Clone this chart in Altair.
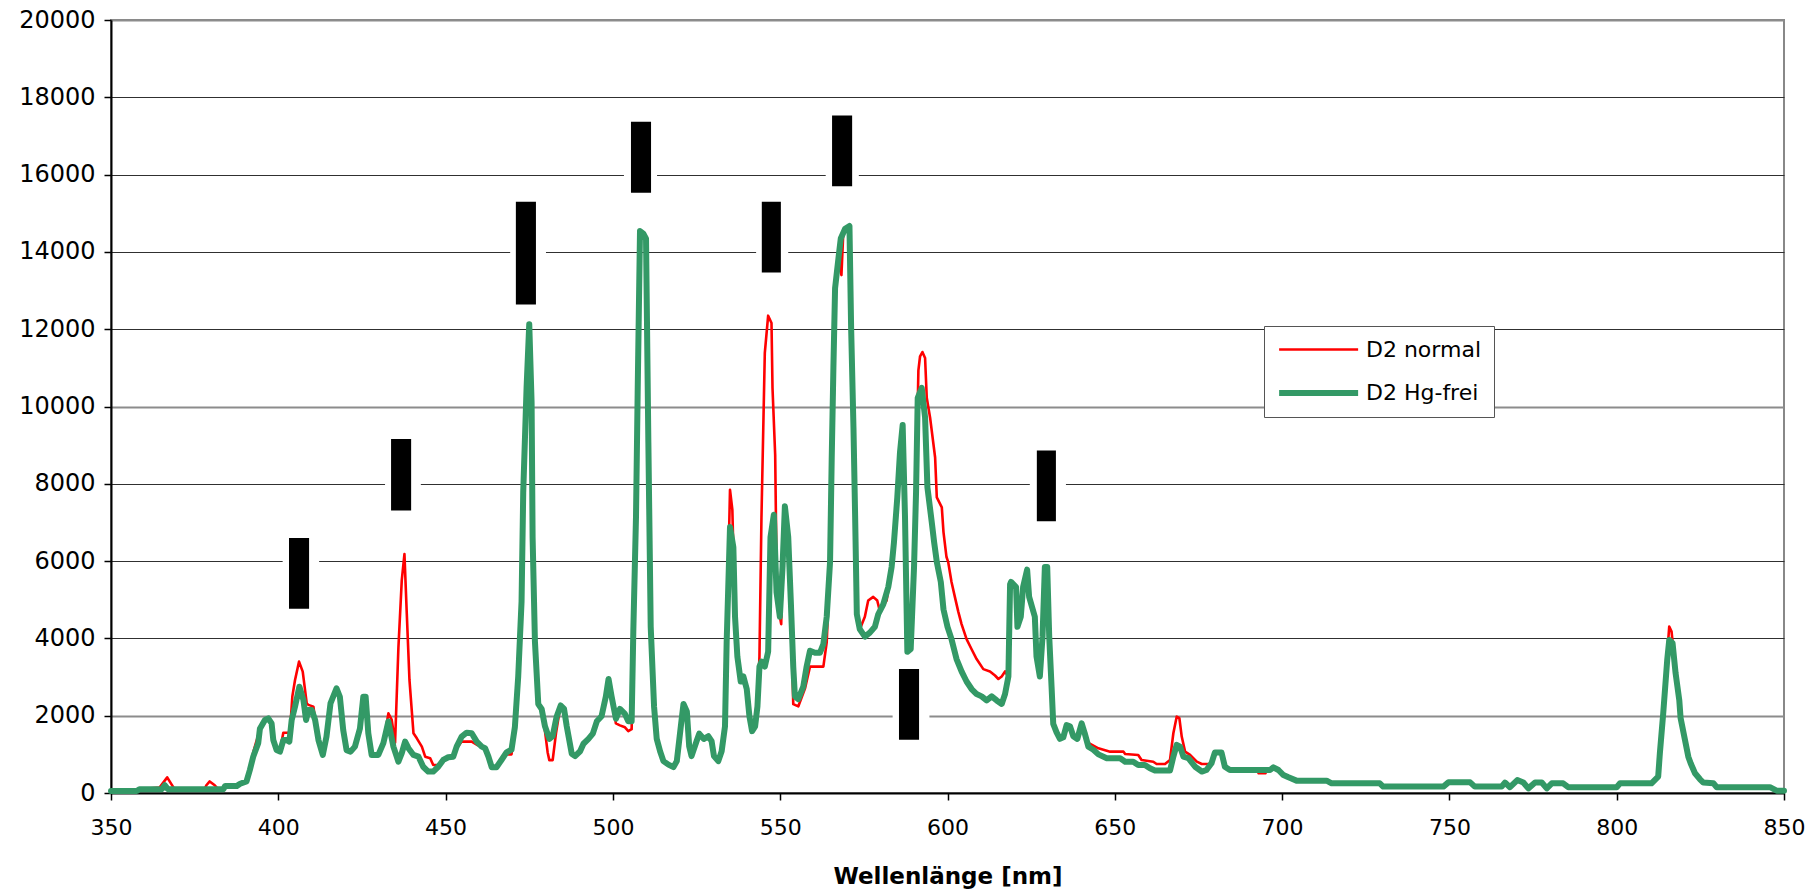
import altair as alt
import pandas as pd

# Emission spectra of the two deuterium lamps: (wavelength in nm, intensity)
D2_NORMAL = [
    (350, 50), (357.7, 50), (358.5, 95), (364.5, 140), (366.8, 405), (368.0, 235), (369.0, 100),
    (378.0, 100), (378.5, 200), (379.5, 300), (381.0, 200), (382.0, 100), (383.6, 100), (384.1, 180),
    (387.6, 180), (388.6, 240), (390.5, 300), (391.5, 650), (392.5, 1050), (394.0, 1500), (395.0, 1800),
    (396.0, 1900), (397.0, 1950), (398.0, 1800), (398.5, 1370), (399.5, 1150), (400.5, 1100),
    (401.5, 1560), (403.0, 1560), (403.5, 1600), (404.2, 2500), (405.0, 2925), (406.2, 3400),
    (407.3, 3140), (408.5, 2320), (409.0, 2280), (410.5, 2235), (411.0, 1890), (412.0, 1370),
    (413.3, 985), (414.4, 1460), (415.6, 2320), (417.4, 2710), (418.4, 2490), (419.4, 1630),
    (420.4, 1110), (421.6, 1070), (422.9, 1200), (424.4, 1670), (425.4, 2490), (426.1, 2490),
    (426.9, 1545), (427.9, 985), (429.9, 985), (431.4, 1290), (432.9, 2060), (433.9, 1890),
    (434.9, 1300), (435.9, 3770), (436.9, 5500), (437.7, 6180), (438.4, 4640), (439.2, 2925),
    (440.4, 1545), (441.4, 1415), (442.9, 1200), (443.9, 940), (445.4, 900), (446.3, 725),
    (447.8, 725), (449.3, 855), (450.8, 925), (452.3, 940), (453.3, 1150), (454.8, 1330),
    (456.3, 1330), (457.8, 1330), (459.3, 1250), (460.8, 1200), (461.8, 1160), (462.8, 940),
    (463.8, 665), (465.2, 665), (466.7, 855), (468.2, 1000), (469.7, 1000), (470.7, 1700),
    (471.7, 3010), (472.7, 4950), (473.2, 7780), (474.2, 10480), (475.0, 12130), (475.7, 10100),
    (476.0, 6620), (476.7, 3915), (477.7, 2300), (478.7, 2175), (479.7, 1600), (480.5, 1050),
    (481.0, 850), (482.0, 850), (483.0, 1550), (484.2, 2200), (485.4, 2175), (486.2, 1725),
    (487.7, 1015), (488.7, 955), (490.2, 1080), (491.2, 1275), (492.7, 1400), (494.0, 1535),
    (495.2, 1855), (496.6, 1985), (497.9, 2500), (498.7, 2950), (499.6, 2500), (500.9, 1800),
    (502.1, 1750), (503.6, 1700), (504.6, 1600), (505.6, 1650), (506.1, 4175), (506.9, 7135),
    (507.4, 10350), (508.1, 14540), (509.1, 14475), (509.9, 14345), (510.6, 9070), (511.3, 4300),
    (512.3, 2240), (513.1, 1400), (514.1, 1080), (515.1, 825), (516.6, 735), (518.1, 670),
    (519.1, 825), (520.3, 1725), (521.1, 2305), (522.1, 2110), (522.8, 1210), (523.5, 955),
    (525.0, 1340), (525.8, 1535), (527.2, 1400), (528.5, 1470), (529.5, 1340), (530.2, 955),
    (531.5, 825), (532.5, 1080), (533.5, 1725), (534.0, 3915), (535.0, 7845), (535.7, 7330),
    (536.5, 4560), (537.2, 3530), (538.2, 2885), (539.0, 3015), (540.0, 2690), (540.8, 1985),
    (541.6, 1600), (542.5, 1725), (543.2, 2240), (543.8, 3530), (544.4, 7135), (545.4, 11390),
    (546.4, 12350), (547.4, 12160), (547.7, 10480), (548.5, 8745), (548.9, 5850), (549.6, 4700),
    (550.3, 4370), (550.7, 5850), (551.4, 7420), (552.4, 6620), (553.2, 4900), (553.9, 2300),
    (555.4, 2240), (557.4, 2700), (558.9, 3270), (562.9, 3270), (563.9, 3900), (564.9, 5980),
    (565.4, 8680), (565.9, 11000), (566.4, 13060), (567.4, 13830), (568.3, 13400), (568.8, 14400),
    (569.4, 14600), (570.7, 14670), (571.2, 12030), (571.9, 9450), (572.4, 7135), (572.9, 4625),
    (573.8, 4235), (575.3, 4560), (576.3, 4980), (577.8, 5075), (579.0, 4980), (579.8, 4700),
    (581.8, 4980), (582.8, 5500), (583.3, 5850), (584.0, 6490), (585.0, 7650), (585.8, 8810),
    (586.6, 9520), (587.3, 7135), (588.0, 3655), (589.0, 3720), (590.0, 5850), (590.6, 7780),
    (591.3, 10935), (591.8, 11300), (592.5, 11410), (593.3, 11255), (593.8, 10225), (594.8, 9710),
    (596.3, 8680), (596.8, 7650), (598.3, 7390), (598.8, 6750), (599.7, 6105), (600.2, 5980),
    (601.2, 5460), (602.2, 5075), (603.2, 4700), (604.2, 4370), (605.7, 3980), (607.2, 3720),
    (608.7, 3465), (610.7, 3205), (612.7, 3145), (614.2, 3040), (615.2, 2950), (616.2, 3015),
    (617.2, 3145), (618.2, 3015), (618.7, 5395), (619.0, 5460), (620.5, 5330), (620.9, 4300),
    (621.9, 4560), (622.6, 5330), (623.8, 5780), (624.4, 5075), (626.1, 4560), (626.6, 3530),
    (627.6, 3015), (628.4, 4045), (629.1, 5850), (629.8, 5850), (630.4, 4045), (631.1, 2755),
    (631.6, 1790), (632.6, 1570), (633.6, 1400), (634.6, 1440), (635.6, 1755), (636.6, 1725),
    (637.6, 1470), (638.8, 1400), (640.1, 1800), (641.1, 1420), (642.1, 1295), (645.1, 1155),
    (648.6, 1070), (652.6, 1070), (653.1, 1010), (657.0, 985), (658.0, 855), (661.5, 810),
    (662.5, 750), (665.0, 750), (666.5, 855), (667.5, 1545), (668.5, 1975), (669.3, 1935),
    (670.0, 1460), (671.0, 1070), (672.5, 985), (674.5, 810), (676.0, 750), (678.0, 750),
    (678.9, 770), (679.9, 1045), (681.9, 1045), (682.9, 680), (684.4, 595), (692.5, 595),
    (693.0, 510), (695.0, 510), (695.5, 595), (696.4, 595), (697.4, 665), (698.9, 595),
    (700.4, 465), (701.9, 405), (704.3, 320), (713.3, 320), (714.8, 250), (729.2, 250),
    (730.2, 200), (738.0, 200), (739.0, 165), (748.2, 165), (749.7, 275), (756.2, 275),
    (757.6, 165), (765.6, 165), (766.6, 270), (768.1, 150), (770.3, 335), (772.1, 270),
    (773.6, 120), (775.6, 270), (777.6, 270), (779.1, 120), (780.6, 250), (784.0, 250),
    (785.5, 150), (800.0, 150), (801.0, 250), (810.4, 250), (812.4, 425), (812.9, 1030),
    (813.9, 2060), (815.1, 3600), (815.7, 4305), (816.4, 4175), (817.6, 3100), (818.7, 2405),
    (819.1, 1935), (820.4, 1375), (821.4, 940), (822.1, 770), (823.4, 510), (824.9, 355),
    (825.9, 270), (828.9, 250), (829.9, 150), (845.8, 150), (847.8, 60), (850.0, 60),
]

D2_HG_FREI = [
    (350, 50), (357.7, 50), (358.5, 95), (365.1, 95), (366.1, 200), (367.0, 100), (383.6, 100),
    (384.1, 180), (387.6, 180), (388.6, 240), (390.5, 300), (391.5, 595), (392.5, 940),
    (394.0, 1290), (394.5, 1660), (396.0, 1890), (397.0, 1930), (398.0, 1800), (398.5, 1370),
    (399.5, 1110), (400.5, 1070), (401.5, 1370), (402.5, 1370), (403.3, 1330), (404.0, 1890),
    (405.0, 2235), (406.3, 2750), (407.5, 2410), (408.3, 1890), (409.0, 2150), (410.0, 2150),
    (411.0, 1890), (412.0, 1370), (413.3, 985), (414.4, 1460), (415.6, 2320), (417.4, 2710),
    (418.4, 2490), (419.4, 1630), (420.4, 1110), (421.6, 1070), (422.9, 1200), (424.4, 1670),
    (425.4, 2490), (426.1, 2490), (426.9, 1545), (427.9, 985), (429.9, 985), (431.4, 1290),
    (432.9, 1850), (434.4, 1200), (435.9, 810), (436.9, 1030), (437.9, 1330), (438.9, 1160),
    (440.4, 985), (441.9, 940), (443.3, 680), (444.8, 555), (446.3, 555), (447.8, 680),
    (449.3, 855), (450.8, 925), (452.3, 940), (453.3, 1200), (454.8, 1460), (456.3, 1560),
    (457.8, 1545), (459.3, 1330), (460.8, 1200), (461.8, 1160), (462.8, 940), (463.8, 665),
    (465.2, 665), (466.7, 855), (468.2, 1050), (469.7, 1120), (470.7, 1700), (471.7, 3010),
    (472.7, 4950), (473.2, 7780), (474.2, 10480), (475.0, 12130), (475.7, 10100), (476.0, 6620),
    (476.7, 3915), (477.7, 2300), (478.7, 2175), (479.7, 1725), (481.0, 1400), (482.0, 1470),
    (483.2, 1980), (484.4, 2265), (485.4, 2175), (486.2, 1725), (487.7, 1015), (488.7, 955),
    (490.2, 1080), (491.2, 1275), (492.7, 1400), (494.0, 1535), (495.2, 1855), (496.6, 1985),
    (497.9, 2500), (498.7, 2950), (499.6, 2500), (500.9, 1920), (502.1, 2175), (503.6, 2045),
    (504.6, 1855), (505.6, 1855), (506.1, 4175), (506.9, 7135), (507.4, 10350), (508.1, 14540),
    (509.1, 14475), (509.9, 14345), (510.6, 9070), (511.3, 4300), (512.3, 2240), (513.1, 1400),
    (514.1, 1080), (515.1, 825), (516.6, 735), (518.1, 670), (519.1, 825), (520.3, 1725),
    (521.1, 2305), (522.1, 2110), (522.8, 1210), (523.5, 955), (525.0, 1340), (525.8, 1535),
    (527.2, 1400), (528.5, 1470), (529.5, 1340), (530.2, 955), (531.5, 825), (532.5, 1080),
    (533.5, 1725), (534.0, 3915), (535.0, 6880), (536.0, 6360), (536.5, 4560), (537.2, 3530),
    (538.2, 2885), (539.0, 3015), (540.0, 2690), (540.8, 1985), (541.6, 1600), (542.5, 1725),
    (543.2, 2240), (543.8, 3270), (544.4, 3400), (545.4, 3270), (546.4, 3660), (547.1, 6620),
    (548.1, 7200), (548.9, 5200), (549.9, 4560), (550.7, 5850), (551.4, 7420), (552.4, 6620),
    (553.2, 4900), (553.9, 3270), (554.4, 2500), (555.4, 2430), (556.9, 2755), (557.9, 3270),
    (558.9, 3680), (560.4, 3630), (561.9, 3630), (562.9, 3850), (563.9, 4560), (564.9, 5980),
    (565.4, 8680), (565.9, 11000), (566.4, 13060), (567.4, 13830), (568.1, 14345), (569.4, 14600),
    (570.7, 14670), (571.2, 12030), (571.9, 9450), (572.4, 7135), (572.9, 4625), (573.8, 4235),
    (575.3, 4045), (576.8, 4150), (578.3, 4300), (579.3, 4625), (580.8, 4880), (582.3, 5330),
    (583.3, 5850), (584.0, 6490), (585.0, 7650), (585.8, 8810), (586.6, 9520), (587.3, 7135),
    (588.0, 3655), (589.0, 3720), (590.0, 5850), (590.6, 7780), (591.1, 10225), (592.3, 10485),
    (593.3, 9710), (594.0, 7905), (595.3, 7005), (596.0, 6490), (596.8, 5980), (598.0, 5460),
    (598.8, 4750), (600.0, 4300), (601.2, 3980), (602.7, 3465), (604.2, 3145), (605.7, 2885),
    (607.2, 2690), (608.7, 2560), (610.2, 2500), (611.7, 2395), (613.2, 2500), (614.7, 2395),
    (616.2, 2305), (617.2, 2560), (618.2, 3015), (618.7, 5395), (619.0, 5460), (620.5, 5330),
    (620.9, 4300), (621.9, 4560), (622.6, 5330), (623.8, 5780), (624.4, 5075), (626.1, 4560),
    (626.6, 3530), (627.6, 3015), (628.4, 4045), (629.1, 5850), (629.8, 5850), (630.4, 4045),
    (631.1, 2755), (631.6, 1790), (632.6, 1570), (633.6, 1400), (634.6, 1440), (635.6, 1755),
    (636.6, 1725), (637.6, 1470), (638.8, 1400), (640.1, 1800), (641.0, 1550), (642.1, 1200),
    (643.6, 1120), (645.1, 1000), (647.6, 900), (651.6, 900), (653.1, 810), (655.5, 810),
    (657.0, 725), (659.0, 725), (660.5, 640), (662.0, 580), (666.5, 580), (667.5, 940),
    (668.5, 1245), (669.5, 1200), (670.5, 940), (672.0, 900), (674.0, 680), (676.0, 555),
    (677.4, 595), (678.9, 770), (679.9, 1045), (681.9, 1045), (682.9, 680), (684.4, 595),
    (696.4, 595), (697.4, 665), (698.9, 595), (700.4, 465), (701.9, 405), (704.3, 320),
    (713.3, 320), (714.8, 250), (729.2, 250), (730.2, 165), (748.2, 165), (749.7, 275),
    (756.2, 275), (757.6, 165), (765.6, 165), (766.6, 270), (768.1, 150), (770.3, 335),
    (772.1, 270), (773.6, 120), (775.6, 270), (777.6, 270), (779.1, 120), (780.6, 250),
    (784.0, 250), (785.5, 150), (800.0, 150), (801.0, 250), (810.4, 250), (812.4, 425),
    (812.9, 1030), (813.9, 2060), (815.1, 3445), (815.7, 3960), (816.7, 3875), (817.6, 3100),
    (818.7, 2405), (819.1, 1935), (820.4, 1375), (821.4, 940), (822.1, 770), (823.4, 510),
    (824.9, 355), (825.9, 270), (828.9, 250), (829.9, 150), (845.8, 150), (847.8, 60), (850.0, 60),
]

SERIES = ["D2 normal", "D2 Hg-frei"]
SERIES_COLORS = ["#ff0000", "#339966"]
SERIES_WIDTHS = [2.6, 6]

# Label boxes over the spectral lines: bar (nm, nm, intensity, intensity)
# and the white margin around each bar (nm, nm)
BAR_NM_LO = [403.2, 433.7, 471.0, 505.4, 544.5, 565.5, 585.5, 626.7]
BAR_NM_HI = [409.2, 439.7, 477.0, 511.4, 550.2, 571.5, 591.5, 632.4]
BAR_LO = [4770, 7310, 12640, 15530, 13470, 15700, 1380, 7030]
BAR_HI = [6600, 9160, 15300, 17370, 15300, 17530, 3210, 8860]
PAD_NM_LO = [401.3, 431.9, 469.3, 503.3, 542.8, 563.6, 583.6, 624.6]
PAD_NM_HI = [412.2, 442.6, 480.0, 513.2, 552.4, 573.5, 594.6, 635.4]

X_TICKS = list(range(350, 851, 50))
Y_TICKS = list(range(0, 20001, 2000))

FONT = "DejaVu Sans"

normal = pd.DataFrame(D2_NORMAL, columns=["nm", "intensity"])
normal["lamp"] = SERIES[0]
hgfree = pd.DataFrame(D2_HG_FREI, columns=["nm", "intensity"])
hgfree["lamp"] = SERIES[1]

boxes = pd.DataFrame({
    "x1": BAR_NM_LO, "x2": BAR_NM_HI, "y1": BAR_LO, "y2": BAR_HI,
    "px1": PAD_NM_LO, "px2": PAD_NM_HI,
})

x_scale = alt.Scale(domain=[350, 850], nice=False, zero=False)
y_scale = alt.Scale(domain=[0, 20000], nice=False)

strong_grid = "datum.value == 2000 || datum.value == 10000 || datum.value == 20000"

x_axis = alt.Axis(
    values=X_TICKS, grid=False, labelFont=FONT, labelFontSize=22, labelColor="black",
    labelPadding=17, labelFlush=False, tickSize=7, tickColor="black", tickWidth=1.5,
    domainColor="black", domainWidth=2,
    title="Wellenlänge [nm]", titleFont=FONT, titleFontSize=23, titleFontWeight="bold",
    titleColor="black", titleBaseline="alphabetic", titleY=90,
)
y_axis = alt.Axis(
    values=Y_TICKS, format="d", title=None, labelFont=FONT, labelFontSize=24,
    labelColor="black", labelPadding=9, labelFlush=False, tickSize=7, tickColor="black",
    tickWidth=1.5, domainColor="black", domainWidth=2,
    grid=True,
    gridColor={"condition": {"test": strong_grid, "value": "#8c8c8c"}, "value": "#303030"},
    gridWidth={"condition": {"test": strong_grid, "value": 2}, "value": 1.1},
)

# Long horizontal line sample: a short symbol box with a path reaching to the right
legend = alt.Legend(
    title=None, orient="none", legendX=1153, legendY=306, direction="vertical",
    symbolType="M-1,0H7", symbolSize=390, labelFont=FONT, labelFontSize=22,
    labelColor="black", labelOffset=64, padding=12, rowPadding=19,
    strokeColor="#555555", fillColor="white",
)

color_enc = alt.Color("lamp:N", scale=alt.Scale(domain=SERIES, range=SERIES_COLORS), legend=legend)
width_enc = alt.StrokeWidth("lamp:N", scale=alt.Scale(domain=SERIES, range=SERIES_WIDTHS), legend=legend)


def spectrum(df):
    return alt.Chart(df).mark_line(strokeJoin="round", strokeCap="round").encode(
        x=alt.X("nm:Q", scale=x_scale, axis=x_axis),
        y=alt.Y("intensity:Q", scale=y_scale, axis=y_axis),
        color=color_enc,
        strokeWidth=width_enc,
    )


pads = alt.Chart(boxes).mark_rect(color="white").encode(
    x=alt.X("px1:Q", scale=x_scale), x2="px2", y=alt.Y("y1:Q", scale=y_scale), y2="y2",
)
bars = alt.Chart(boxes).mark_rect(color="black").encode(
    x=alt.X("x1:Q", scale=x_scale), x2="x2", y=alt.Y("y1:Q", scale=y_scale), y2="y2",
)

chart = alt.layer(spectrum(normal), spectrum(hgfree), pads, bars).properties(
    width=1673,
    height=773,
    autosize=alt.AutoSizeParams(type="none"),
    padding={"left": 111, "top": 20, "right": 23, "bottom": 96},
    background="white",
).configure_view(stroke="#888888", strokeWidth=2)

chart.save("out.html", embed_options={"renderer": "svg", "actions": False})
